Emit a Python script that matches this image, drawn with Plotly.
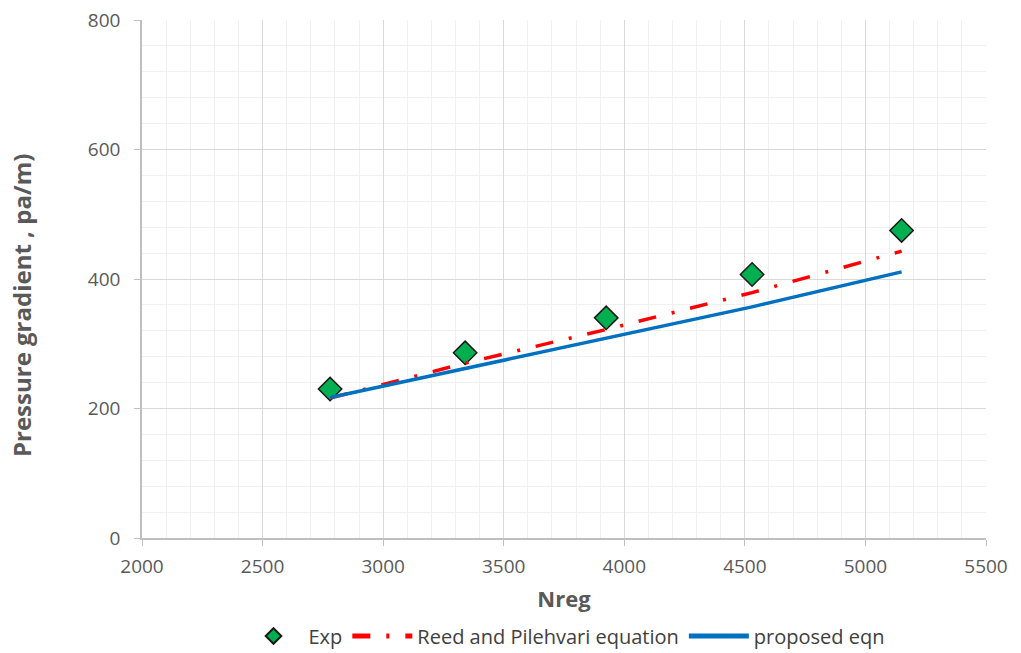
import plotly.graph_objects as go

# Experimental and model values
nreg = [2780, 3340, 3925, 4530, 5150]
exp_dp = [230, 286, 340, 407, 475]
reed_pilehvari = [216, 270, 322, 379, 443]
proposed = [217, 262, 308, 357, 411]

x_ticks = [2000, 2500, 3000, 3500, 4000, 4500, 5000, 5500]
y_ticks = [0, 200, 400, 600, 800]

fig = go.Figure()

fig.add_trace(go.Scatter(
    x=nreg, y=exp_dp, mode="markers", name="Exp",
    marker=dict(symbol="diamond", size=18, color="#00B050",
                line=dict(color="#1a1a1a", width=1.5)),
))
fig.add_trace(go.Scatter(
    x=nreg, y=reed_pilehvari, mode="lines", name="Reed and Pilehvari equation",
    line=dict(color="#FF0000", width=3.5, dash="18px,16px,3px,16px"),
))
fig.add_trace(go.Scatter(
    x=nreg, y=proposed, mode="lines", name="proposed eqn",
    line=dict(color="#0070C0", width=3.5),
))

font_family = "'Open Sans', sans-serif"

fig.update_layout(
    width=1021, height=653,
    margin=dict(l=142, r=35, t=20, b=115, autoexpand=False),
    paper_bgcolor="white", plot_bgcolor="white",
    font=dict(family=font_family, color="#595959", size=18),
    legend=dict(orientation="h", x=0.5, xanchor="center",
                yref="container", y=0.026, yanchor="middle",
                font=dict(size=20, color="#404040"), traceorder="normal",
                itemwidth=60, itemsizing="constant"),
    showlegend=True,
)

# Y-axis title placed as a rotated annotation
fig.add_annotation(
    text="<b>Pressure gradient , pa/m)</b>", textangle=-90,
    xref="paper", yref="paper", x=-0.142, y=0.45,
    xanchor="center", yanchor="middle", showarrow=False,
    font=dict(size=24, color="#595959", family=font_family),
)

fig.update_xaxes(
    range=[2000, 5500], tickvals=x_ticks, ticks="outside", ticklen=6,
    tickcolor="#bfbfbf", showline=True, linecolor="#bfbfbf", linewidth=1.5,
    showgrid=True, gridcolor="#d9d9d9", gridwidth=1.3,
    minor=dict(dtick=100, showgrid=True, gridcolor="#f0f0f0", gridwidth=1.3),
    zeroline=False, automargin=False, ticklabelstandoff=4,
    title=dict(text="<b>Nreg</b>", font=dict(size=22, color="#595959"), standoff=14),
    tickfont=dict(size=19, color="#595959"),
)
fig.update_yaxes(
    range=[0, 800], tickvals=y_ticks, ticks="outside", ticklen=6,
    tickcolor="#bfbfbf", showline=True, linecolor="#bfbfbf", linewidth=1.5,
    showgrid=True, gridcolor="#d9d9d9", gridwidth=1.3,
    minor=dict(dtick=40, showgrid=True, gridcolor="#f0f0f0", gridwidth=1.3),
    zeroline=False, automargin=False, ticklabelstandoff=10,
    tickfont=dict(size=19, color="#595959"),
)

fig.write_html("out.html")
